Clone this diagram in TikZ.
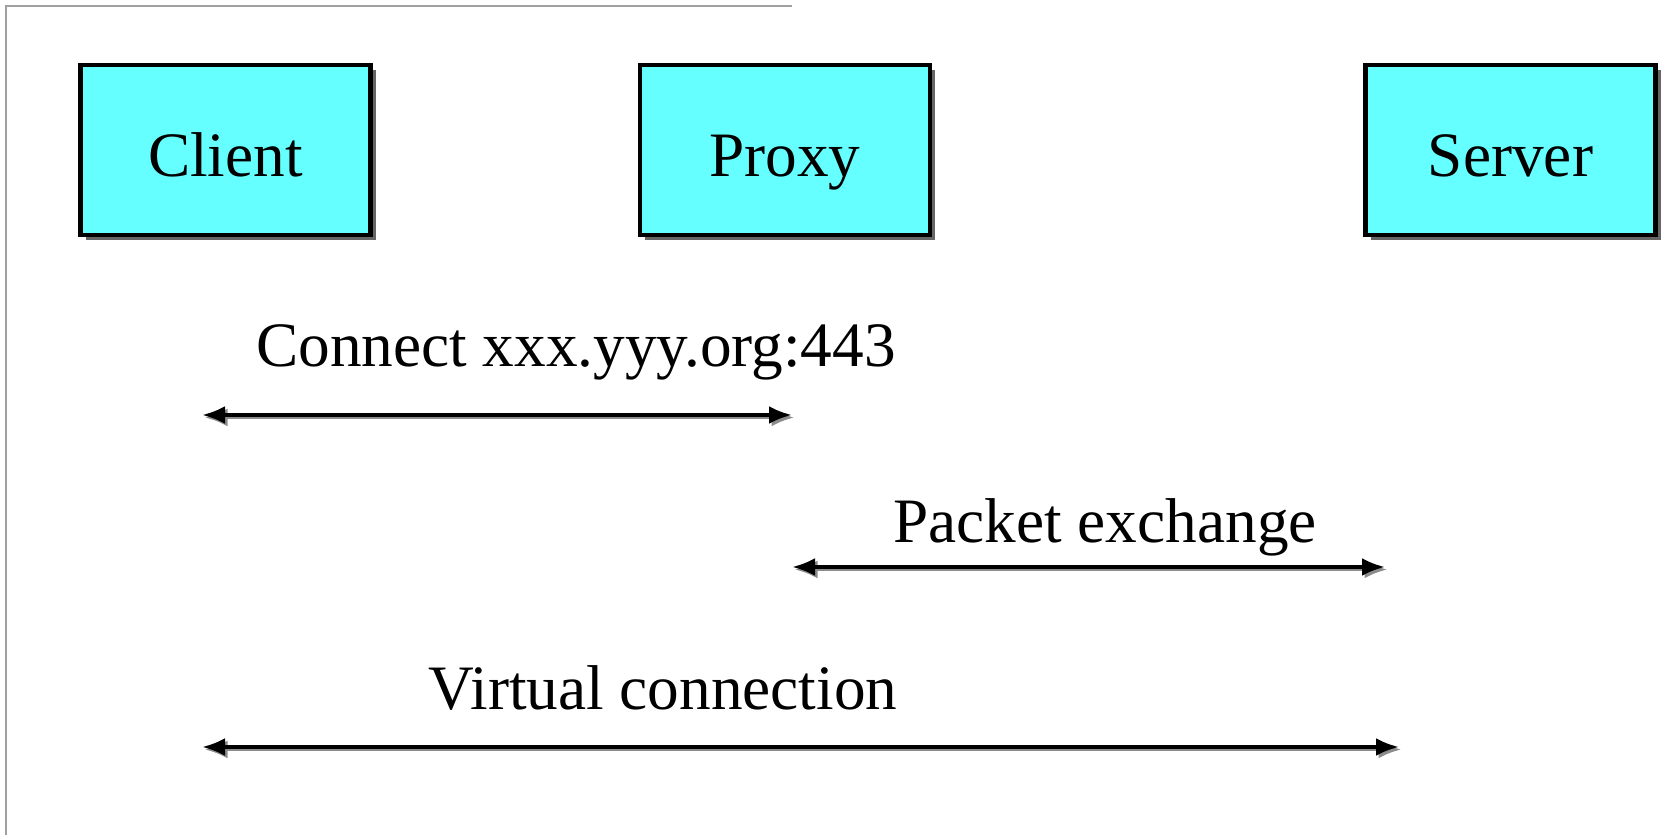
\documentclass[tikz,border=0pt]{standalone}
\usepackage{fontspec}
\setmainfont{Liberation Serif}
\usepackage{tikz}
\usetikzlibrary{arrows.meta, shadows}

\definecolor{hostcyan}{HTML}{66FFFF}
\definecolor{framegray}{HTML}{A0A0A0}

\begin{document}
\begin{tikzpicture}[
    hostbox/.style={draw=black, line width=1.3pt, fill=hostcyan,
        minimum width=2.9cm, minimum height=1.7cm, inner sep=0pt,
        text height=0.54cm, text depth=0pt,
        font=\fontsize{18}{22}\selectfont,
        drop shadow={shadow xshift=0.05cm, shadow yshift=-0.05cm, fill=black!60, opacity=1}},
    msg/.style={anchor=base, font=\fontsize{18}{22}\selectfont},
    link/.style={line width=1.1pt, {Latex[length=0.23cm,width=0.18cm]}-{Latex[length=0.23cm,width=0.18cm]}},
    linkshade/.style={link, black!45}
]
    \useasboundingbox (0,0) rectangle (16.61,8.35);

    % page frame, only top and left edges show
    \draw[framegray, line width=0.6pt] (0.06,0) -- (0.06,8.29) -- (7.92,8.29);

    % the three hosts
    \node[hostbox] (client) at (2.255,6.85) {Client};
    \node[hostbox] (proxy) at (7.85,6.85) {Proxy};
    \node[hostbox] (server) at (15.105,6.85) {Server};

    % labels
    \node[msg] (connect) at (5.76,4.68) {Connect xxx.yyy.org:443};
    \node[msg] (packets) at (11.05,2.92) {Packet exchange};
    \node[msg] (virtual) at (6.63,1.25) {Virtual connection};

    % ends of the exchanges
    \coordinate (c1) at (2.02,4.20);
    \coordinate (p1) at (7.92,4.20);
    \coordinate (p2) at (7.92,2.68);
    \coordinate (s2) at (13.85,2.68);
    \coordinate (c3) at (2.02,0.88);
    \coordinate (s3) at (13.99,0.88);

    % shadows first, then the arrows
    \draw[linkshade] ([xshift=0.025cm,yshift=-0.025cm]c1) -- ([xshift=0.025cm,yshift=-0.025cm]p1);
    \draw[linkshade] ([xshift=0.025cm,yshift=-0.025cm]p2) -- ([xshift=0.025cm,yshift=-0.025cm]s2);
    \draw[linkshade] ([xshift=0.025cm,yshift=-0.025cm]c3) -- ([xshift=0.025cm,yshift=-0.025cm]s3);
    \draw[link] (c1) -- (p1);
    \draw[link] (p2) -- (s2);
    \draw[link] (c3) -- (s3);
\end{tikzpicture}
\end{document}
